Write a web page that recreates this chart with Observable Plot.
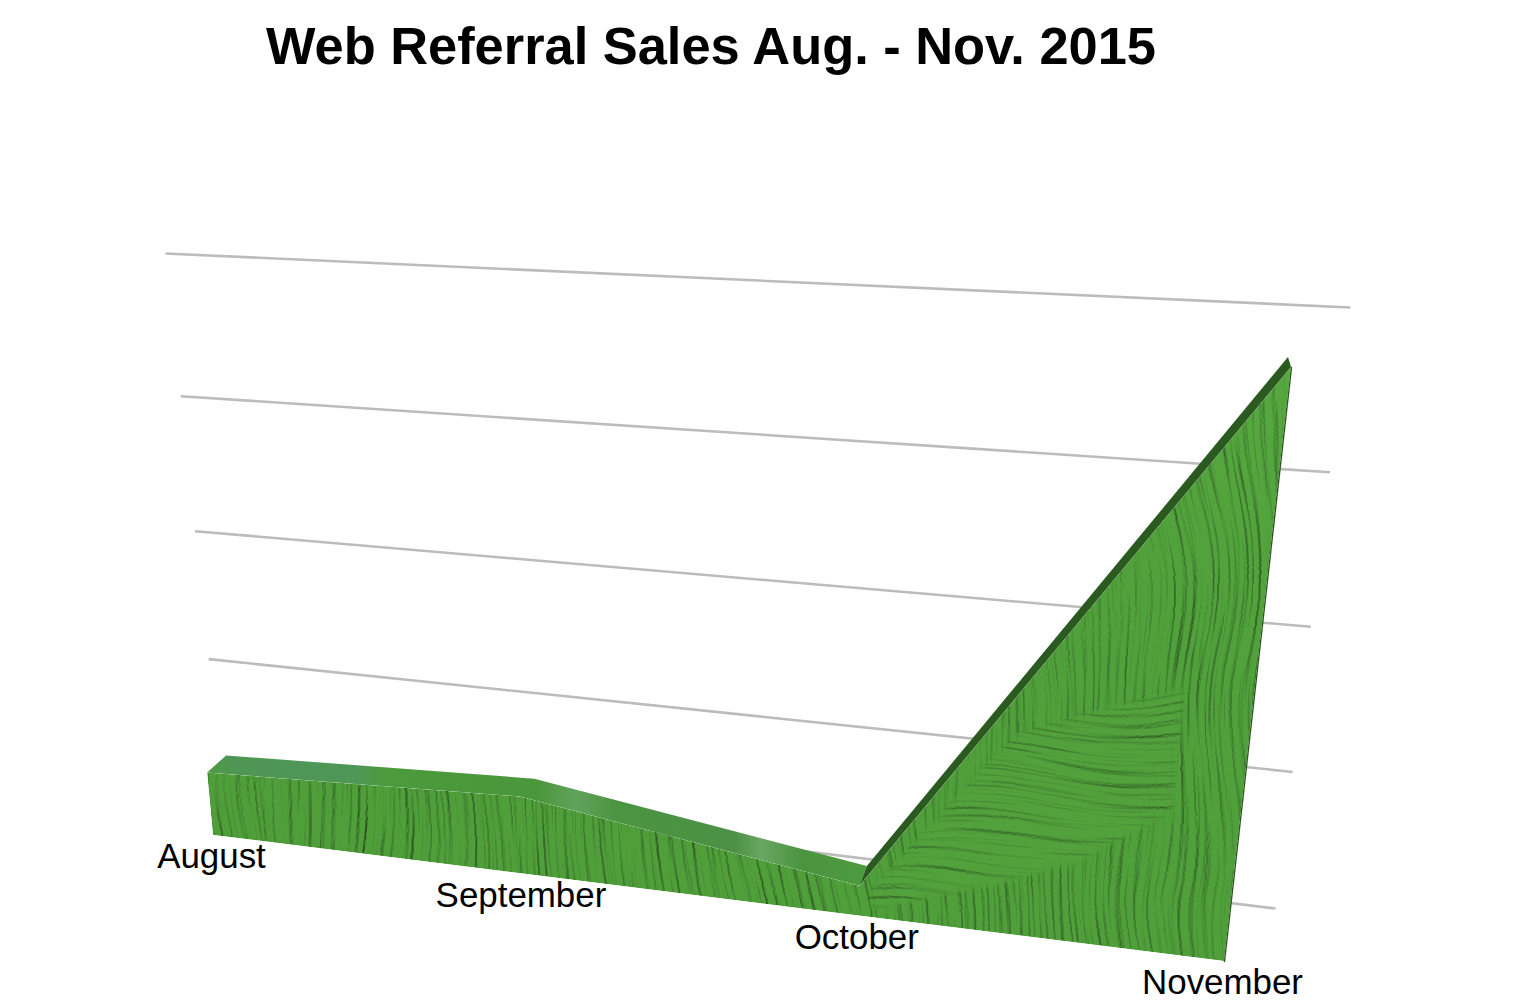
<!DOCTYPE html>
<html>
<head>
<meta charset="utf-8">
<script src="https://cdn.jsdelivr.net/npm/d3@7"></script>
<script src="https://cdn.jsdelivr.net/npm/@observablehq/plot@0.6"></script>
<style>
html,body{margin:0;padding:0;background:#fff;overflow:hidden}
#title{height:92px;box-sizing:border-box;padding:15px 0 0 266px;font:bold 52.4px "Liberation Sans",Arial,sans-serif;color:#000;line-height:62px;white-space:nowrap}
svg{display:block}
</style>
</head>
<body>
<div id="title">Web Referral Sales Aug. - Nov. 2015</div>
<div id="chart"></div>
<script>
// ---- chart values (sales in gridline units; the original has no value axis)
const months = ["August", "September", "October", "November"];
const sales = [0.47, 0.56, 0.21, 3.65];
const gridValues = [0, 1, 2, 3, 4];
// brushed patch on the front face, given in month position / value
const patchPos = [2.03, 2.4, 2.6, 2.83];
const patchLow = [0.04, 0.34, 0.55, 0.95];
const patchHigh = [0.2, 1.35, 1.55, 1.75];

// ---- perspective frames: corners of each plane [base-left, base-right, top-right, top-left]
const FRONT = [[213,835],[1224,961],[1291,367],[163,305]];
const BACK  = [[232,817],[1222,939],[1288,357],[182,293]];
const WALL  = [[221,780],[1275,908],[1350,307],[165,253]];

function frame(q, vMax, tMax) {
  const [[x0,y0],[x1,y1],[x2,y2],[x3,y3]] = q;
  const dx1=x1-x2, dx2=x3-x2, sx=x0-x1+x2-x3, dy1=y1-y2, dy2=y3-y2, sy=y0-y1+y2-y3;
  const den=dx1*dy2-dx2*dy1;
  const g=(sx*dy2-dx2*sy)/den, h=(dx1*sy-sx*dy1)/den;
  const a=x1-x0+g*x1, b=x3-x0+h*x3, d=y1-y0+g*y1, e=y3-y0+h*y3;
  return (t,v)=>{
    const u=t/tMax, w=v/vMax, k=g*u+h*w+1;
    return [(a*u+b*w+x0)/k,(d*u+e*w+y0)/k];
  };
}
const front = frame(FRONT, sales[3], 3);
const back  = frame(BACK, sales[3], 3);
const wall  = frame(WALL, 4, 1);

const rows = months.map((m,i)=>({
  month:m, i, v:sales[i],
  ft:front(i,sales[i]), fb:front(i,0), bt:back(i,sales[i])
}));
const gridRows = gridValues.map(v=>({v,a:wall(0,v),b:wall(1,v)}));
const patch = patchPos.map((t,i)=>({a:front(t,patchLow[i]),b:front(t,patchHigh[i])}));

const brush = (id, freq, seed, az, blur) => `
  <filter id="${id}" filterUnits="userSpaceOnUse" x="0" y="0" width="1516" height="916" color-interpolation-filters="sRGB">
    <feTurbulence type="fractalNoise" baseFrequency="${freq}" numOctaves="3" seed="${seed}" result="n"/>
    <feTurbulence type="fractalNoise" baseFrequency="0.005" numOctaves="1" seed="${seed+3}" result="warp"/>
    <feDisplacementMap in="n" in2="warp" scale="90" xChannelSelector="R" yChannelSelector="G" result="bent"/>
    <feDiffuseLighting in="bent" surfaceScale="1.5" diffuseConstant="1.14" lighting-color="#fff" result="l">
      <feDistantLight azimuth="${az}" elevation="62"/>
    </feDiffuseLighting>
    <feComposite in="l" in2="SourceGraphic" operator="arithmetic" k1="1" result="m"/>
    <feGaussianBlur in="SourceAlpha" stdDeviation="${blur}" result="soft"/>
    <feComposite in="m" in2="soft" operator="in"/>
  </filter>`;

const defs = () => {
  const g = d3.create("svg:defs");
  g.html(`
  <linearGradient id="topGrad" x1="0" x2="1" y1="0" y2="0">
    <stop offset="0" stop-color="#4f9a42"/><stop offset=".04" stop-color="#4f9655"/>
    <stop offset=".23" stop-color="#4f9757"/><stop offset=".27" stop-color="#4b9a3b"/>
    <stop offset=".5" stop-color="#4b973c"/><stop offset=".56" stop-color="#62a25c"/>
    <stop offset=".62" stop-color="#4b9440"/><stop offset=".8" stop-color="#4c9146"/>
    <stop offset=".84" stop-color="#69a663"/><stop offset=".9" stop-color="#4b9440"/>
    <stop offset="1" stop-color="#4d9a3e"/>
  </linearGradient>
  <linearGradient id="faceGrad" x1="0" x2="1" y1="1" y2="0">
    <stop offset="0" stop-color="#4f9e3a"/><stop offset=".7" stop-color="#50a03b"/><stop offset="1" stop-color="#56a83f"/>
  </linearGradient>
  ${brush("brushV","0.2 0.006",4,0,0)}
  ${brush("brushH","0.006 0.16",9,90,5)}`);
  return g.node();
};

const chart = Plot.plot({
  width:1516, height:916, margin:0,
  x:{domain:[0,1516],range:[0,1516],axis:null},
  y:{domain:[92,1008],range:[0,916],axis:null},
  style:{background:"#fff"},
  marks:[
    defs,
    Plot.link(gridRows,{x1:d=>d.a[0],y1:d=>d.a[1],x2:d=>d.b[0],y2:d=>d.b[1],stroke:"#bdbcbc",strokeWidth:2.6}),
    Plot.area(rows.slice(0,3),{x1:d=>d.bt[0],y1:d=>d.bt[1],x2:d=>d.ft[0],y2:d=>d.ft[1],fill:"url(#topGrad)"}),
    Plot.area(rows,{x1:d=>d.fb[0],y1:d=>d.fb[1],x2:d=>d.ft[0],y2:d=>d.ft[1],fill:"url(#faceGrad)"}),
    Plot.area(patch,{x1:d=>d.a[0],y1:d=>d.a[1],x2:d=>d.b[0],y2:d=>d.b[1],fill:"#52a13c"}),
    Plot.area(rows.slice(2),{x1:d=>d.bt[0],y1:d=>d.bt[1],x2:d=>d.ft[0],y2:d=>d.ft[1],fill:"#2a5a1f"}),
    Plot.line([rows[3]].flatMap(d=>[d.ft,d.fb]),{x:d=>d[0],y:d=>d[1],stroke:"#2a5a1f",strokeWidth:1.4}),
    Plot.text(rows,{x:d=>d.fb[0],y:d=>d.fb[1],dx:-2,dy:21.5,text:"month",fontSize:34.9,fill:"#000",fontFamily:"Liberation Sans",textAnchor:"middle"})
  ]
});
const areas = d3.select(chart).selectAll('g[aria-label="area"]').nodes();
d3.select(areas[1]).attr("filter","url(#brushV)");
d3.select(areas[2]).attr("filter","url(#brushH)");
document.getElementById("chart").append(chart);
</script>
</body>
</html>
